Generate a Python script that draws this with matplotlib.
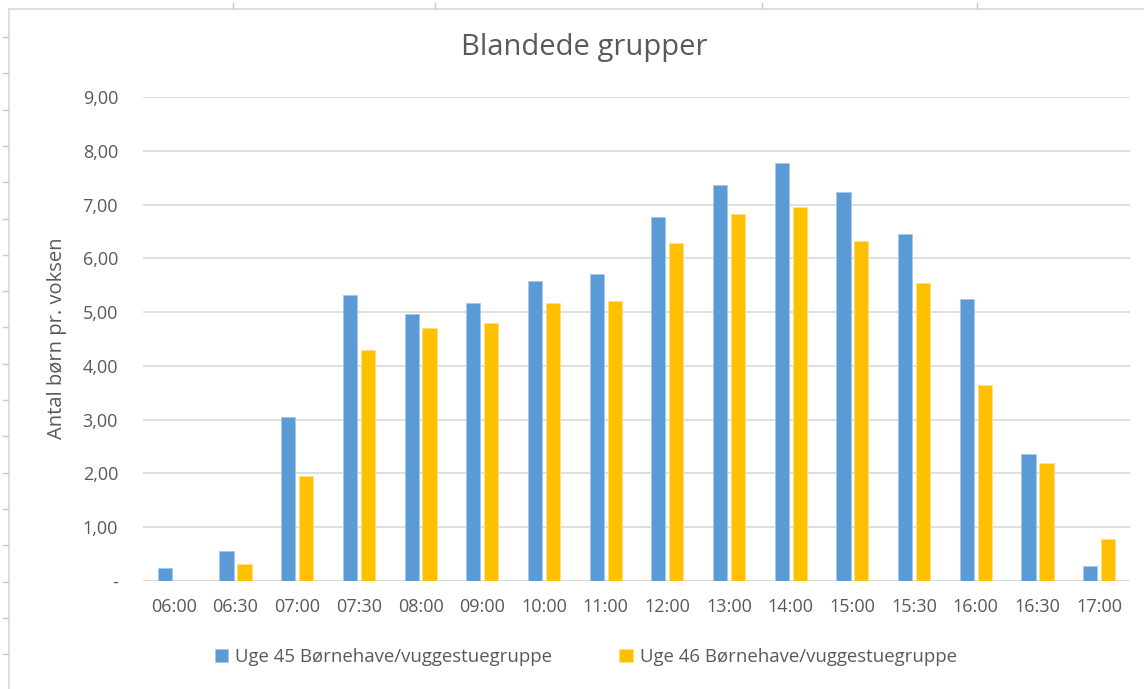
import matplotlib.pyplot as plt
from matplotlib.lines import Line2D
import numpy as np

# --- Data ---
times = ['06:00', '06:30', '07:00', '07:30', '08:00', '09:00', '10:00', '11:00',
         '12:00', '13:00', '14:00', '15:00', '15:30', '16:00', '16:30', '17:00']
uge45 = [0.24, 0.55, 3.05, 5.31, 4.97, 5.17, 5.58, 5.71,
         6.76, 7.37, 7.78, 7.24, 6.46, 5.24, 2.37, 0.27]
uge46 = [0.00, 0.31, 1.96, 4.30, 4.70, 4.80, 5.17, 5.21,
         6.28, 6.83, 6.96, 6.32, 5.54, 3.65, 2.20, 0.78]
yticks = [0, 1, 2, 3, 4, 5, 6, 7, 8, 9]
ytick_labels = ['-', '1,00', '2,00', '3,00', '4,00', '5,00', '6,00', '7,00', '8,00', '9,00']

BLUE = '#5B9BD5'
YELLOW = '#FFC000'
GREY_TXT = '#595959'
GRID = '#D9D9D9'

plt.rcParams['font.family'] = ['Open Sans', 'DejaVu Sans']

W, H = 1144, 689
fig = plt.figure(figsize=(W / 100, H / 100), dpi=100)

# plot area in pixel coords: x 143..1130, y 97..581
ax = fig.add_axes([143 / W, 1 - 581 / H, (1130 - 143) / W, (581 - 97) / H])

x = np.arange(len(times))
bw = 0.23
ax.bar(x - 0.145, uge45, bw, color=BLUE, label='Uge 45 Børnehave/vuggestuegruppe',
       edgecolor='#A9C8E8', linewidth=0.6, zorder=3)
ax.bar(x + 0.145, uge46, bw, color=YELLOW, label='Uge 46 Børnehave/vuggestuegruppe',
       edgecolor='#FFE080', linewidth=0.6, zorder=3)

ax.set_xlim(-0.5, len(times) - 0.5)
ax.set_ylim(0, 9)
ax.set_yticks(yticks)
ax.set_yticklabels(ytick_labels)
ax.set_xticks(x)
ax.set_xticklabels(times)
ax.tick_params(axis='both', length=0, colors=GREY_TXT, labelsize=13)
ax.tick_params(axis='y', pad=18)
ax.tick_params(axis='x', pad=12)
ax.yaxis.grid(True, color=GRID, linewidth=1.2, zorder=0)
for s in ax.spines.values():
    s.set_visible(False)
ax.axhline(0, color=GRID, linewidth=1.2, zorder=2)

# axis title placed by hand like the Excel one
fig.text(57 / W, 1 - 338 / H, 'Antal børn pr. voksen', rotation=90, ha='center', va='center',
         color=GREY_TXT, fontsize=14.5)

fig.text(584 / W, 1 - 48 / H, 'Blandede grupper', ha='center', va='center',
         fontsize=21, color=GREY_TXT)

ax.legend(loc='center', bbox_to_anchor=(586 / W, 1 - 657 / H), bbox_transform=fig.transFigure,
          ncol=2, frameon=False, fontsize=13.4, labelcolor=GREY_TXT,
          handlelength=0.7, handleheight=0.7, handletextpad=0.4, columnspacing=3.6)

# chart border and bits of the spreadsheet grid around it
border = '#D9D9D9'
fig.add_artist(Line2D([9 / W, 1], [1 - 9 / H, 1 - 9 / H], color=border, lw=1.2))
fig.add_artist(Line2D([9 / W, 9 / W], [0, 1 - 9 / H], color=border, lw=1.2))
for xp in [233, 435, 762, 977]:
    fig.add_artist(Line2D([xp / W, xp / W], [1 - 3 / H, 1 - 8 / H], color='#C8C8C8', lw=1))
for k in range(19):
    yp = 37 + 36.3 * k
    fig.add_artist(Line2D([3 / W, 8 / W], [1 - yp / H, 1 - yp / H], color='#C8C8C8', lw=1))

fig.savefig('out.png', dpi=100)
